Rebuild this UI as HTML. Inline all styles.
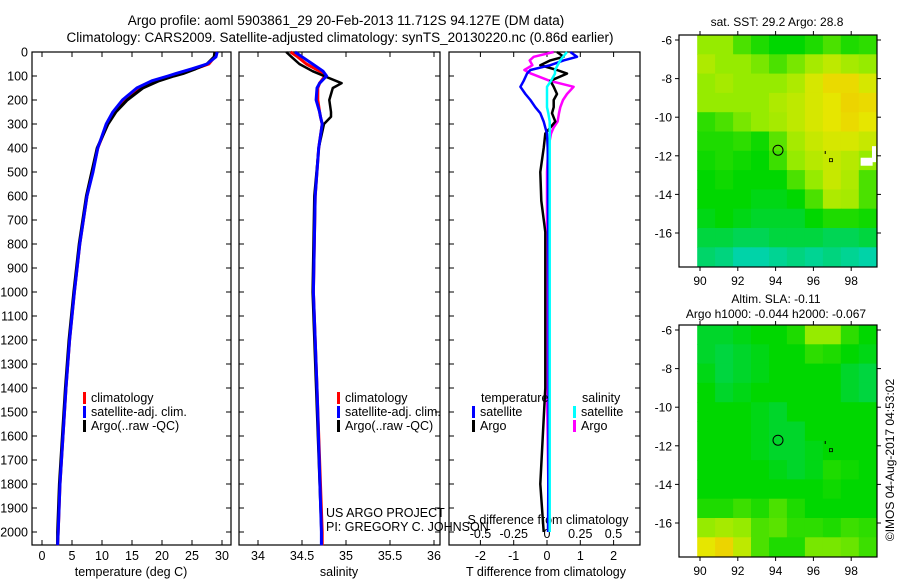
<!DOCTYPE html>
<html><head><meta charset="utf-8"><style>
body{margin:0;background:#fff;}
svg{display:block;font-family:"Liberation Sans",sans-serif;}
text{fill:#000;}
</style></head><body>
<svg id="fig" width="900" height="580" viewBox="0 0 900 580">
<text x="346" y="25" font-size="13.5" text-anchor="middle">Argo profile: aoml 5903861_29 20-Feb-2013 11.712S 94.127E (DM data)</text>
<text x="340" y="42" font-size="13.5" text-anchor="middle">Climatology: CARS2009. Satellite-adjusted climatology: synTS_20130220.nc (0.86d earlier)</text>
<g id="g1"></g>
<g id="g2"></g>
<g id="g3"></g>
<g id="m1"></g>
<g id="m2"></g>
<text x="777" y="26" font-size="12" text-anchor="middle">sat. SST: 29.2 Argo: 28.8</text>
<text x="776" y="303" font-size="12" text-anchor="middle">Altim. SLA: -0.11</text>
<text x="776" y="318" font-size="12" text-anchor="middle">Argo h1000: -0.044 h2000: -0.067</text>
<text transform="translate(894,460) rotate(-90)" font-size="12" text-anchor="middle">©IMOS 04-Aug-2017 04:53:02</text>
</svg>
<script>
// ---- data ----
const tempDepth=[0,20,50,70,90,100,120,150,200,250,300,400,500,600,800,1000,1200,1400,1600,1800,2000,2055];
const tempClim=[29,28.8,27.8,25.5,23,21.5,19,16.3,13.8,12.1,10.9,9.3,8.4,7.5,6.3,5.4,4.6,4.0,3.5,3.0,2.7,2.6];
const tempSat=[29.2,29,27.5,25,22.3,21,18.3,15.8,13.4,11.8,10.7,9.3,8.5,7.5,6.3,5.4,4.6,4.0,3.5,3.0,2.7,2.6];
const tempArgo=[28.8,28.7,27.5,25.6,23.5,22,19.5,16.8,14.2,12.3,11,9.2,8.3,7.4,6.2,5.3,4.5,3.9,3.4,2.9,2.6,2.6];
const salDepth=[0,20,50,80,100,130,150,200,250,270,300,400,600,1000,1400,2000,2055];
const salClim=[34.37,34.45,34.55,34.7,34.76,34.7,34.68,34.68,34.7,34.71,34.73,34.69,34.65,34.63,34.67,34.73,34.73];
const salSat=[34.42,34.5,34.62,34.74,34.78,34.7,34.67,34.66,34.7,34.71,34.73,34.69,34.65,34.63,34.67,34.72,34.72];
const salArgo=[34.32,34.38,34.47,34.62,34.75,34.95,34.85,34.81,34.83,34.83,34.75,34.69,34.64,34.62,34.66,34.72,34.72];
const diffDepth=[0,20,35,55,75,90,120,145,175,200,230,255,290,315,340,400,500,620,750,1000,1400,1800,2000];
const dTsat=[0.7,0.9,0.5,0.1,-0.5,-0.6,-0.7,-0.8,-0.65,-0.5,-0.35,-0.2,-0.1,-0.05,0,0.02,0.03,0.03,0.04,0.05,0.05,0.04,0.03];
const dTargo=[0.3,0.5,0.1,-0.2,0.3,0.6,0.1,0.2,0.3,0.2,0.2,0.15,0.25,0.1,-0.05,-0.1,-0.2,-0.17,-0.05,-0.05,-0.05,-0.2,-0.1];
const dSsat=[0.15,0.12,0.1,0.08,0.06,0.06,0.03,0,0,0,0,0.01,0.02,0.02,0.02,0.02,0.02,0.02,0.02,0.02,0.02,0.02,0.02];
const dSargo=[0.05,-0.1,-0.13,-0.11,-0.17,-0.12,0.02,0.2,0.15,0.12,0.1,0.09,0.08,0.05,0.03,0.01,0,0,0,0,0,0.01,0.01];
const depthTicks=[0,100,200,300,400,500,600,700,800,900,1000,1100,1200,1300,1400,1500,1600,1700,1800,1900,2000];
const tempTicks=[0,5,10,15,20,25,30];
const salTicks=[34,34.5,35,35.5,36];
const tdTicks=[-2,-1,0,1,2];
const sdTicks=[-0.5,-0.25,0,0.25,0.5];
const mapLonTicks=[90,92,94,96,98];
const mapLatTicks=[-6,-8,-10,-12,-14,-16];
const sstGrid=[
[2,2,1.5,1.2,1,1,1.2,1.5,1.2,1.3],
[2.3,2,2,1.8,1.5,1.8,2.2,2.5,2.2,2],
[2,2.2,2,2,2,2.3,2.8,3.2,3.2,2.8],
[2,2,2,2,2.3,2.5,2.8,3,3.3,3.2],
[1.3,1.5,1.8,2,2.2,2.5,2.8,3,3.2,3],
[1.2,1.2,1.3,1.1,1.6,2.2,2.6,2.8,2.8,2.6],
[1.1,1.2,1.1,1,1.4,2,2.4,2.6,2.4,2],
[1,1.1,1,1,1,1.5,2,2.6,2.3,1.5],
[1,1,1,0.9,0.9,1,1.5,2.3,2.2,1.5],
[0.9,1,0.9,0.8,0.8,0.8,1,1.2,1.2,1.1],
[0.7,0.7,0.6,0.6,0.7,0.7,0.7,0.6,0.6,0.7],
[0.5,0.4,0.2,0.2,0.3,0.4,0.3,0.4,0.3,0.2]];
const slaGrid=[
[0.8,0.8,0.9,1,1,1.2,2,2,1.3,1],
[0.8,0.7,0.8,0.9,1,1,1.3,1.2,1,0.9],
[0.9,0.7,0.8,0.9,1,1,1,1,0.8,0.7],
[1,0.8,0.9,1,1,1,1,1,0.8,0.7],
[1,1,1,0.9,0.8,1,1,1,1,1],
[1,1,1,0.9,0.8,0.8,1,1,1,1],
[1,1,1,0.9,0.8,0.8,0.9,1,1,1],
[1,1,1,1,0.9,0.8,0.9,1.2,1.1,1],
[1,1,1,1,1,1,1,1.1,1,1],
[1.2,1.2,1.4,1.2,1.5,1.2,1,1,1,1],
[2,2.2,2,1.5,1.6,1.3,1.3,1.2,1.4,1.3],
[3,3.3,2.5,1.5,1.2,1.2,1.8,1.8,1.7,1.4]];
const floatLon=94.127, floatLat=-11.712;

const NS='http://www.w3.org/2000/svg';
function el(parent,tag,attrs,txt){const e=document.createElementNS(NS,tag);for(const k in attrs)e.setAttribute(k,attrs[k]);if(txt!==undefined)e.textContent=txt;parent.appendChild(e);return e;}
const TOP=52,BOT=545;
const yD=d=>TOP+d*0.24;

function panel(g,x0,x1,xs,ticks,fmt,showY){
  el(g,'rect',{x:x0,y:TOP,width:x1-x0,height:BOT-TOP,fill:'none',stroke:'#000','stroke-width':1.2});
  ticks.forEach(t=>{const x=xs(t);
    el(g,'line',{x1:x,x2:x,y1:TOP,y2:TOP+5,stroke:'#000'});
    el(g,'line',{x1:x,x2:x,y1:BOT,y2:BOT-5,stroke:'#000'});
    const tl=el(g,'text',{x:x,y:560,'font-size':12.5,'text-anchor':'middle'},fmt(t));
    
    
  });
  depthTicks.forEach(d=>{const y=yD(d);
    el(g,'line',{x1:x0,x2:x0+5,y1:y,y2:y,stroke:'#000'});
    el(g,'line',{x1:x1,x2:x1-5,y1:y,y2:y,stroke:'#000'});
    if(showY){const tl=el(g,'text',{x:x0-4,y:y+4.5,'font-size':12.5,'text-anchor':'end'},String(d));
      
      }
  });
}
function line(g,xs,vals,depths,color,w,name){
  const pts=vals.map((v,i)=>xs(v).toFixed(1)+','+yD(depths[i]).toFixed(1)).join(' ');
  const p=el(g,'polyline',{points:pts,fill:'none',stroke:color,'stroke-width':w,'stroke-linejoin':'round'});
  
  
}
function legend(g,x,y,color,label,name){
  el(g,'rect',{x:x,y:y-10,width:3,height:12,fill:color});
  const t=el(g,'text',{x:x+8,y:y,'font-size':12.5},label);
  
  
}

// panel 1
const g1=document.getElementById('g1');
const xT=v=>42+v*6;
panel(g1,32,231,xT,tempTicks,String,true);
line(g1,xT,tempClim,tempDepth,'#f00',3,'temp-climatology-line');
line(g1,xT,tempArgo,tempDepth,'#000',3,'temp-argo-line');
line(g1,xT,tempSat,tempDepth,'#00f',3,'temp-satellite-line');
legend(g1,83,402,'#f00','climatology','legend-climatology');
legend(g1,83,416,'#00f','satellite-adj. clim.','legend-satellite');
legend(g1,83,430,'#000','Argo(..raw -QC)','legend-argo');
el(g1,'text',{x:131,y:576,'font-size':12.5,'text-anchor':'middle'},'temperature (deg C)');

// panel 2
const g2=document.getElementById('g2');
const xS=v=>258+(v-34)*88;
panel(g2,239,440,xS,salTicks,String,false);
line(g2,xS,salClim,salDepth,'#f00',3,'sal-climatology-line');
line(g2,xS,salArgo,salDepth,'#000',2.5,'sal-argo-line');
line(g2,xS,salSat,salDepth,'#00f',3,'sal-satellite-line');
legend(g2,337,402,'#f00','climatology','legend-climatology-2');
legend(g2,337,416,'#00f','satellite-adj. clim.','legend-satellite-2');
legend(g2,337,430,'#000','Argo(..raw -QC)','legend-argo-2');
el(g2,'text',{x:326,y:517,'font-size':12.5},'US ARGO PROJECT');
el(g2,'text',{x:326,y:531,'font-size':12.5},'PI: GREGORY C. JOHNSON');
el(g2,'text',{x:339,y:576,'font-size':12.5,'text-anchor':'middle'},'salinity');

// panel 3
const g3=document.getElementById('g3');
const xTd=v=>547+v*33.3;
const xSd=v=>547+v*133;
panel(g3,449,640,xTd,tdTicks,String,false);
sdTicks.forEach(t=>{const tl=el(g3,'text',{x:xSd(t),y:538,'font-size':12.5,'text-anchor':'middle'},String(t));
  
  });
el(g3,'text',{x:548,y:524,'font-size':12.5,'text-anchor':'middle'},'S difference from climatology');
line(g3,xSd,dSargo,diffDepth,'#f0f',2.5,'sdiff-argo-line');
line(g3,xTd,dTargo,diffDepth,'#000',2.5,'tdiff-argo-line');
line(g3,xTd,dTsat,diffDepth,'#00f',2.5,'tdiff-satellite-line');
line(g3,xSd,dSsat,diffDepth,'#0ff',2.5,'sdiff-satellite-line');
el(g3,'text',{x:481,y:402,'font-size':12.5},'temperature');
el(g3,'text',{x:582,y:402,'font-size':12.5},'salinity');
legend(g3,472,416,'#00f','satellite','legend-t-satellite');
legend(g3,472,430,'#000','Argo','legend-t-argo');
legend(g3,573,416,'#0ff','satellite','legend-s-satellite');
legend(g3,573,430,'#f0f','Argo','legend-s-argo');
el(g3,'text',{x:546,y:576,'font-size':12.5,'text-anchor':'middle'},'T difference from climatology');

// maps
const stops=[[0,[0,210,210]],[1,[0,215,0]],[2,[150,235,0]],[3,[230,230,0]],[4,[250,170,0]]];
function cmap(v){v=Math.max(0,Math.min(4,v));const i=Math.min(3,Math.floor(v));const f=v-i;const a=stops[i][1],b=stops[i+1][1];
  return 'rgb('+a.map((c,k)=>Math.round(c+(b[k]-c)*f)).join(',')+')';}
function map(id,top,grid,notch){
  const g=document.getElementById(id);
  const xL=lon=>700+(lon-90)*18.9;
  const yL=lat=>top+5+(-6-lat)*19.3;
  const lon0=89.85,lat0=-5.74,dlon=0.95,dlat=1.0;
  grid.forEach((row,r)=>row.forEach((v,c)=>{
    const x=xL(lon0+c*dlon),y=yL(lat0-r*dlat);
    const w=xL(lon0+(c+1)*dlon)-x,h=yL(lat0-(r+1)*dlat)-y;
    const rc=el(g,'rect',{x:x.toFixed(1),y:y.toFixed(1),width:(w+0.5).toFixed(1),height:(Math.min(h,top+232-y)+0.5).toFixed(1),fill:cmap(v)});
    
    
  }));
  if(notch){el(g,'rect',{x:xL(98.5),y:yL(-12.1),width:12,height:8,fill:'#fff'});el(g,'rect',{x:xL(99.1),y:yL(-11.5),width:4,height:16,fill:'#fff'});}
  el(g,'rect',{x:679,y:top,width:198,height:232,fill:'none',stroke:'#000','stroke-width':1.2});
  mapLonTicks.forEach(t=>{const x=xL(t);
    el(g,'line',{x1:x,x2:x,y1:top,y2:top-4,stroke:'#000'});
    el(g,'line',{x1:x,x2:x,y1:top+232,y2:top+236,stroke:'#000'});
    el(g,'text',{x:x,y:top+250,'font-size':12,'text-anchor':'middle'},String(t));});
  mapLatTicks.forEach(t=>{const y=yL(t);
    el(g,'line',{x1:679,x2:675,y1:y,y2:y,stroke:'#000'});
    el(g,'line',{x1:877,x2:881,y1:y,y2:y,stroke:'#000'});
    el(g,'text',{x:672,y:y+4.5,'font-size':12,'text-anchor':'end'},String(t));});
  const cir=el(g,'circle',{cx:xL(floatLon),cy:yL(floatLat),r:5,fill:'none',stroke:'#000','stroke-width':1});
  
  
  el(g,'rect',{x:xL(96.6),y:yL(-11.75),width:1,height:3,fill:'#000'});
  el(g,'rect',{x:xL(96.85),y:yL(-12.15),width:3,height:3,fill:'none',stroke:'#000','stroke-width':0.8});
}
map('m1',35,sstGrid,true);
map('m2',325,slaGrid,false);
</script>
</body></html>
